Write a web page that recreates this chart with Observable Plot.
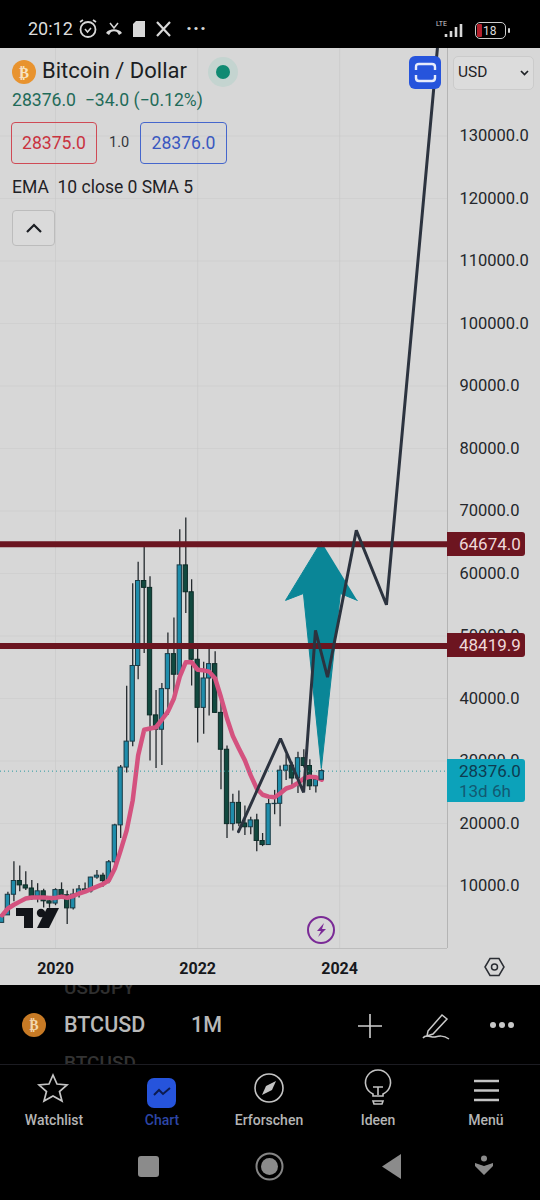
<!DOCTYPE html>
<html>
<head>
<meta charset="utf-8">
<script src="https://cdn.jsdelivr.net/npm/d3@7"></script>
<script src="https://cdn.jsdelivr.net/npm/@observablehq/plot@0.6"></script>
<style>
html,body{margin:0;padding:0;background:#000;}
#page{position:relative;width:540px;height:1200px;overflow:hidden;background:#000;font-family:Roboto,sans-serif;}
#chart{position:absolute;left:0;top:48px;}
#chart svg{display:block;background:#d7d7d7;}
.a{position:absolute;white-space:pre;line-height:1;}
.box{position:absolute;box-sizing:border-box;border-radius:4px;text-align:center;}
.tag{position:absolute;left:447px;width:78px;box-sizing:border-box;padding-left:12px;border-radius:0 3px 3px 0;text-align:left;font-size:17px;}
.nav{position:absolute;top:1113px;transform:translateX(-50%);font-size:14px;font-weight:500;color:#b5b5b5;line-height:1;white-space:pre;}
svg.i{position:absolute;overflow:visible;}
</style>
</head>
<body>
<div id="page">
  <div id="chart"></div>
</div>
<script>
// monthly candles, April 2019 to October 2023
const firstMonth = "2019-04-01";
const opens  = [4100,5300,8600,10800,10100,9600,8300,9150,7550,7190,9350,8520,6420,8630,9450,9140,11350,11650,10780,13800,19700,28950,33100,45200,58800,57700,37300,35000,41500,47100,43800,61300,57000,46200,38500,43200,45500,37700,31800,19900,23300,20000,19400,20500,17200,16550,23100,23150,28450,29250,27200,30450,29200,25950,27000];
const highs  = [5600,9000,13900,13200,12300,10900,10370,9500,7750,9570,10500,9200,9470,10070,10500,11400,12470,12050,14100,19900,29300,41950,58350,61800,64300,59500,41300,42400,50500,52900,67000,68900,59000,48000,45800,48200,47500,40000,32400,24700,25200,22800,21000,21500,18400,23900,25300,29200,31000,29800,31400,31800,30200,27500,28600];
const lows   = [4100,5300,7500,9100,9300,7700,7300,6500,6430,6850,8400,3850,6150,8100,8900,8900,11100,9820,10370,13200,17600,28100,32300,43000,47200,30000,28800,29300,37300,39600,43200,53600,42000,32900,34300,37200,37600,25400,17600,18800,19500,18100,18200,15500,16300,16500,21400,19500,26900,25800,24800,28900,25300,24900,26900];
const closes = [5300,8600,10800,10100,9600,8300,9150,7550,7190,9350,8520,6420,8630,9450,9140,11350,11650,10780,13800,19700,28950,33100,45200,58800,57700,37300,35000,41500,47100,43800,61300,57000,46200,38500,43200,45500,37700,31800,19900,23300,20000,19400,20500,17200,16550,23100,23150,28450,29250,27200,30450,29200,25950,27000,28376];
const emaSma = [5300,6400,7000,7500,8000,8160,8160,8160,8100,8100,8300,8100,8400,8800,9100,9500,9900,10300,10900,12800,15700,18900,23700,30900,35000,35200,35400,36600,37900,40000,43500,45800,45800,44600,44500,44300,43200,40200,36800,34000,32000,30100,27700,25600,24600,24300,24200,24800,25600,25900,26500,27200,27500,27400,27000];
// hand-drawn zigzag forecast
const sketchDates  = ["2022-07-30","2023-03-03","2023-06-30","2023-08-30","2023-10-31","2024-03-27","2024-08-29","2025-05-18"];
const sketchPrices = [18700,33600,24960,50900,43400,66900,55000,144000];
// hand-drawn teal arrow outline
const arrowDates  = ["2023-09-29","2023-03-29","2023-06-29","2023-09-29","2024-01-05","2024-04-01"];
const arrowPrices = [65100,55700,56800,28800,56800,55700];
// horizontal levels and last price
const levels = [64674.0,48419.9];
const lastPrice = 28376.0;
const priceTicks = [10000,20000,30000,40000,50000,60000,70000,80000,90000,100000,110000,120000,130000];
const yearTicks = ["2020-01-01","2022-01-01","2024-01-01"];
const candleWidthDays = 11;

const start = new Date(firstMonth + "T00:00:00Z");
const candles = opens.map((o, i) => {
  const date = d3.utcMonth.offset(start, i);
  return {date, open:o, high:highs[i], low:lows[i], close:closes[i], ema:emaSma[i],
          x1:d3.utcDay.offset(date,-candleWidthDays), x2:d3.utcDay.offset(date,candleWidthDays),
          up:closes[i] >= o};
});
const asDate = s => new Date(s + "T00:00:00Z");
const sketch = sketchDates.map((d,i)=>({date:asDate(d),price:sketchPrices[i]}));
const arrow = arrowDates.map((d,i)=>({date:asDate(d),price:arrowPrices[i]}));
const yearDates = yearTicks.map(asDate);

const chart = Plot.plot({
  width:540, height:937,
  marginLeft:0, marginRight:93, marginTop:0, marginBottom:37,
  style:{background:"#d7d7d7", fontFamily:"Roboto, sans-serif", overflow:"hidden"},
  x:{type:"utc", domain:[asDate("2019-03-24"),asDate("2025-07-09")], range:[0,447]},
  y:{domain:[0,144000], range:[900,0]},
  marks:[
    Plot.gridY(priceTicks,{stroke:"#cacaca",strokeOpacity:0.5,strokeWidth:1}),
    Plot.gridX(yearDates,{stroke:"#c6c6c6",strokeOpacity:0.55,strokeWidth:1}),
    Plot.ruleX(candles,{x:"date",y1:"low",y2:"high",stroke:"#23292d",strokeWidth:1.3,clip:true}),
    Plot.rect(candles,{x1:"x1",x2:"x2",y1:"open",y2:"close",fill:d=>d.up?"#1f8dab":"#11493f",stroke:d=>d.up?"#1a3a44":"#0d2b27",strokeWidth:1,clip:true}),
    Plot.line(candles,{x:"date",y:"ema",stroke:"#d4527f",strokeWidth:4.5,curve:"linear",clip:true}),
    Plot.ruleY([lastPrice],{stroke:"#2a9aa0",strokeWidth:1,strokeDasharray:"1,3"}),
    Plot.line(arrow,{x:"date",y:"price",fill:"#0a8697",stroke:"#0a8697",strokeWidth:1,strokeLinejoin:"round"}),
    Plot.rect(candles.slice(-1),{x1:"x1",x2:"x2",y1:"open",y2:"close",fill:"#1f8dab",stroke:"#1a3a44",strokeWidth:1}),
    Plot.ruleY(levels,{stroke:"#6b1520",strokeWidth:6}),
    Plot.line(sketch,{x:"date",y:"price",stroke:"#2c333f",strokeWidth:3,strokeLinejoin:"miter",clip:true}),
    Plot.ruleX([asDate("2025-07-09")],{stroke:"#b4b4b4",strokeWidth:1,y1:0,y2:144000}),
    Plot.ruleY([0],{stroke:"#bdbdbd",strokeWidth:1,x1:asDate("2019-03-24"),x2:asDate("2025-07-09")}),
    Plot.axisY({anchor:"right",ticks:priceTicks,tickSize:0,tickPadding:12,tickFormat:d=>d.toFixed(1),fontSize:16.5,textAnchor:"start",color:"#24272c",label:null}),
    Plot.axisX({ticks:yearDates,tickSize:0,tickPadding:14,tickFormat:d=>d3.utcFormat("%Y")(d),fontSize:16,fontWeight:"bold",color:"#16181c",label:null})
  ]
});
document.getElementById("chart").appendChild(chart);

const page = document.getElementById("page");
const y = v => 48 + chart.scale("y").apply(v);
function txt(s,left,top,size,color,extra){
  const d=document.createElement("div");d.className="a";d.textContent=s;
  d.style.cssText=`left:${left}px;top:${top}px;font-size:${size}px;color:${color};${extra||""}`;
  page.appendChild(d);return d;
}
function box(left,top,w,h,css){
  const d=document.createElement("div");d.className="box";
  d.style.cssText=`left:${left}px;top:${top}px;width:${w}px;height:${h}px;${css||""}`;
  page.appendChild(d);return d;
}
function icon(left,top,w,h,inner){
  page.insertAdjacentHTML("beforeend",`<svg class="i" style="left:${left}px;top:${top}px" width="${w}" height="${h}" viewBox="0 0 ${w} ${h}">${inner}</svg>`);
}
// price tags
levels.forEach(v=>{
  const t=document.createElement("div");t.className="tag";t.textContent=v.toFixed(1);
  t.style.cssText=`top:${y(v)-12}px;height:24px;line-height:24px;background:#6d1520;color:#efd9d9;`;
  page.appendChild(t);
});
const lt=document.createElement("div");lt.className="tag";
lt.style.cssText=`top:${y(lastPrice)-12}px;height:43px;background:#0ca2ba;color:#0e3b50;line-height:20px;padding-top:2px;`;
lt.innerHTML=`${lastPrice.toFixed(1)}<br><span style="color:#125a72">13d 6h</span>`;
page.appendChild(lt);

// status bar
txt("20:12",28,20,18,"#dcdcdc");
icon(78,18,20,22,'<circle cx="10" cy="11.5" r="7.5" fill="none" stroke="#d8d8d8" stroke-width="1.8"/><path d="M7 11l2.5 3 3.5-4" fill="none" stroke="#d8d8d8" stroke-width="1.5"/><path d="M2 4l3-2M18 4l-3-2" stroke="#d8d8d8" stroke-width="1.8"/>');
icon(105,20,18,18,'<path d="M1 13c3-5 13-5 16 0l-3 2-2-3c-2-1-4-1-6 0l-2 3z" fill="#d8d8d8"/><path d="M5 3l4 5 4-5" fill="none" stroke="#d8d8d8" stroke-width="1.5"/>');
icon(132,21,14,16,'<path d="M4 0h9v16H1V3z" fill="#d8d8d8"/>');
icon(156,21,16,16,'<path d="M1 1l13 14M14 1L1 15" stroke="#d8d8d8" stroke-width="2.2"/>');
txt("···",186,18,20,"#d8d8d8","letter-spacing:1px;font-weight:700");
txt("LTE",436,21,7,"#cfcfcf");
icon(444,22,24,16,'<path d="M2 15v-3M7 15v-6M12 15V5M17 15V2" stroke="#d8d8d8" stroke-width="2.6"/>');
box(475,22,31,17,"border:1.5px solid #cfcfcf;border-radius:5px;");
box(477,24,5,13,"background:#b3202c;border-radius:1px;");
txt("18",483,25,12,"#dcdcdc");
box(508,28,2,5,"background:#cfcfcf;border-radius:1px;");

// header
icon(12,60,24,24,'<circle cx="12" cy="12" r="12" fill="#e8932f"/><text x="12" y="17.5" text-anchor="middle" font-family="Roboto" font-weight="700" font-size="15" fill="#f7e3c4">₿</text>');
txt("Bitcoin / Dollar",42,60,22,"#1b1e23");
icon(208,57,30,30,'<circle cx="15" cy="15" r="15" fill="#c4d4d0"/><circle cx="15" cy="15" r="7" fill="#0f8a72"/>');
txt("28376.0  −34.0 (−0.12%)",12,92,17.6,"#1f6b59");
const redB=box(11,122,86,42,"border:1px solid #cf4a55;background:transparent;color:#c9333f;font-size:17.6px;line-height:40px;");redB.textContent="28375.0";
txt("1.0",109,136,14.5,"#33363b");
const blueB=box(140,122,87,42,"border:1px solid #4566cc;background:transparent;color:#3a58c0;font-size:17.6px;line-height:40px;");blueB.textContent="28376.0";
txt("EMA  10 close 0 SMA 5",12,179,17.5,"#1f2226");
box(12,210,43,36,"border:1px solid #bcbcbc;background:#dadada;");
icon(25,222,18,12,'<path d="M2 10l7-7 7 7" fill="none" stroke="#1b1e23" stroke-width="2.2"/>');
box(409,56,32,33,"background:#2654dc;border-radius:6px;");
icon(415,63,21,19,'<path d="M1 7V4q0-3 3-3h13q3 0 3 3v3M1 12v3q0 3 3 3h13q3 0 3-3v-3" fill="none" stroke="#e6ebfb" stroke-width="2.4"/>');
box(453,56,81,34,"border:1px solid #cbcbcb;background:#dcdcdc;border-radius:5px;");
txt("USD",458,65,15.5,"#1f2226");
icon(520,70,9,6,'<path d="M1 1l3.5 3.5L8 1" fill="none" stroke="#1f2226" stroke-width="1.7"/>');

// watermark and widgets on the chart
icon(16,908,43,20,'<path d="M0 0h17v20H8V8H0z" fill="#121419"/><circle cx="25" cy="5" r="4.2" fill="#121419"/><path d="M31 0h12L33 20H21z" fill="#121419"/>');
icon(307,916,28,28,'<circle cx="14" cy="14" r="13" fill="none" stroke="#7a2a96" stroke-width="2"/><path d="M17 7l-7 8h4l-3 6 8-8h-4z" fill="#7a2a96"/>');
icon(484,957,21,20,'<path d="M1 10L6 1.5h9L20 10l-5 8.5H6z" fill="none" stroke="#2a2d33" stroke-width="1.5"/><circle cx="10.5" cy="10" r="3" fill="none" stroke="#2a2d33" stroke-width="1.5"/>');

// bottom bar
txt("USDJPY",64,978,19,"#2f2f2f","font-weight:500;clip-path:inset(7px 0 0 0);");
txt("BTCUSD",64,1014,21.5,"#b9b9b9","font-weight:500;");
txt("1M",191,1014,21.5,"#b9b9b9","font-weight:500;");
txt("BTCUSD",64,1053,19,"#333","font-weight:500;clip-path:inset(0 0 7px 0);");
icon(22,1013,24,24,'<circle cx="12" cy="12" r="12" fill="#c77a25"/><text x="12" y="17" text-anchor="middle" font-family="Roboto" font-weight="700" font-size="14" fill="#f2d7ae">₿</text>');
icon(357,1013,26,26,'<path d="M13 1v24M1 13h24" stroke="#d0d0d0" stroke-width="1.6"/>');
icon(422,1011,29,31,'<path d="M6 20L20 4l5 4-14 15-6 2z" fill="none" stroke="#c8c8c8" stroke-width="1.5"/><path d="M1 27c3-5 8 0 12-1s8-2 14 2" fill="none" stroke="#c8c8c8" stroke-width="1.5"/>');
icon(488,1020,28,10,'<circle cx="5" cy="5" r="3" fill="#c8c8c8"/><circle cx="14" cy="5" r="3" fill="#c8c8c8"/><circle cx="23" cy="5" r="3" fill="#c8c8c8"/>');
box(0,1064,540,1,"background:#1c1c22;border-radius:0;");

// nav icons
icon(38,1073,30,30,'<path d="M15 2l4 9 10 1-7.5 6.5L24 28l-9-5-9 5 2.500-9.500L1 12l10-1z" fill="none" stroke="#c4c4c4" stroke-width="1.7"/>');
box(147,1078,29,30,"background:#2654dc;border-radius:7px;");
icon(153,1086,18,12,'<path d="M1 9l5-5 4 4 7-6" fill="none" stroke="#0c1b50" stroke-width="2"/>');
icon(254,1073,30,30,'<circle cx="15" cy="15" r="14" fill="none" stroke="#c4c4c4" stroke-width="1.6"/><path d="M22 8l-10 5-4 9 10-5z" fill="#c4c4c4"/>');
icon(364,1073,28,34,'<path d="M9 21a12.500 12.500 0 1 1 10 0v2H9z" fill="none" stroke="#c4c4c4" stroke-width="1.6"/><path d="M9 14h10M14 14v8" stroke="#c4c4c4" stroke-width="1.6"/><path d="M9 28h10l-1 3h-8z" fill="none" stroke="#c4c4c4" stroke-width="1.6"/>');
icon(474,1079,26,24,'<path d="M0 2h25M0 11.500h25M0 21h25" stroke="#c4c4c4" stroke-width="2.4"/>');
[["Watchlist",54,"#b5b5b5"],["Chart",162,"#2d46a6"],["Erforschen",269,"#b5b5b5"],["Ideen",378,"#b5b5b5"],["Menü",486,"#b5b5b5"]].forEach(([s,x,c])=>{
  const n=document.createElement("div");n.className="nav";n.textContent=s;n.style.left=x+"px";n.style.color=c;page.appendChild(n);
});
// android keys
box(138,1156,21,21,"background:#8b8b8b;border-radius:3px;");
icon(255,1152,29,29,'<circle cx="14.500" cy="14.500" r="13" fill="none" stroke="#858585" stroke-width="2"/><circle cx="14.500" cy="14.500" r="8.500" fill="#8b8b8b"/>');
icon(382,1154,20,25,'<path d="M19 0v25L0 12.500z" fill="#8b8b8b"/>');
icon(475,1155,18,20,'<circle cx="9" cy="3.500" r="3" fill="#8b8b8b"/><path d="M0 8l9 3 9-3v3l-9 9-9-9z" fill="#8b8b8b"/>');
</script>
</body>
</html>
